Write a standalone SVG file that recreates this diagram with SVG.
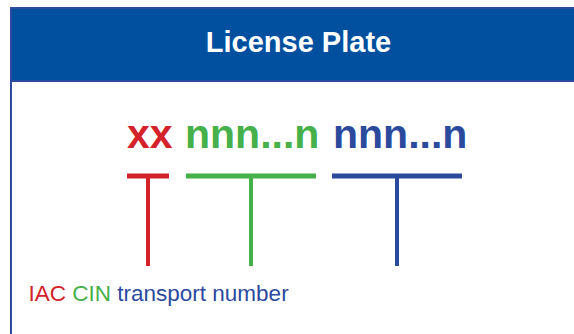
<svg xmlns="http://www.w3.org/2000/svg" width="574" height="334" viewBox="0 0 574 334">
<style>
.t{font-family:"Liberation Sans",Arial,sans-serif}
.red{fill:#d3222a}.green{fill:#46b04a}.blue{fill:#2b4a9e}
.sr{stroke:#d3222a}.sg{stroke:#46b04a}.sb{stroke:#2b4a9e}
.bar{stroke-width:5;fill:none}.stem{stroke-width:4;fill:none}
</style>
<rect x="0" y="0" width="574" height="334" fill="#ffffff"/>
<g id="frame">
<rect x="11" y="8" width="570" height="340" fill="#ffffff" stroke="#2e4a9e" stroke-width="2"/>
<rect x="11" y="8" width="570" height="73" fill="#00509f" stroke="#2e4a9e" stroke-width="2"/>
<text class="t" x="298.5" y="52" font-size="29" font-weight="bold" fill="#ffffff" text-anchor="middle">License Plate</text>
</g>
<g id="code">
<text class="t red" x="127" y="148" font-size="41" font-weight="bold">xx</text>
<text class="t green" x="185" y="148" font-size="41" font-weight="bold">nnn...n</text>
<text class="t blue" x="333" y="148" font-size="41" font-weight="bold">nnn...n</text>
</g>
<g id="connectors">
<line class="sr bar" x1="127" y1="176" x2="169" y2="176"/>
<line class="sr stem" x1="148" y1="176" x2="148" y2="266"/>
<line class="sg bar" x1="186" y1="176" x2="316" y2="176"/>
<line class="sg stem" x1="251" y1="176" x2="251" y2="266"/>
<line class="sb bar" x1="332" y1="176" x2="462" y2="176"/>
<line class="sb stem" x1="397" y1="176" x2="397" y2="266"/>
</g>
<g id="legend">
<text class="t" x="28.5" y="301" font-size="22.5"><tspan class="red">IAC</tspan> <tspan class="green">CIN</tspan> <tspan class="blue">transport number</tspan></text>
</g>
</svg>
